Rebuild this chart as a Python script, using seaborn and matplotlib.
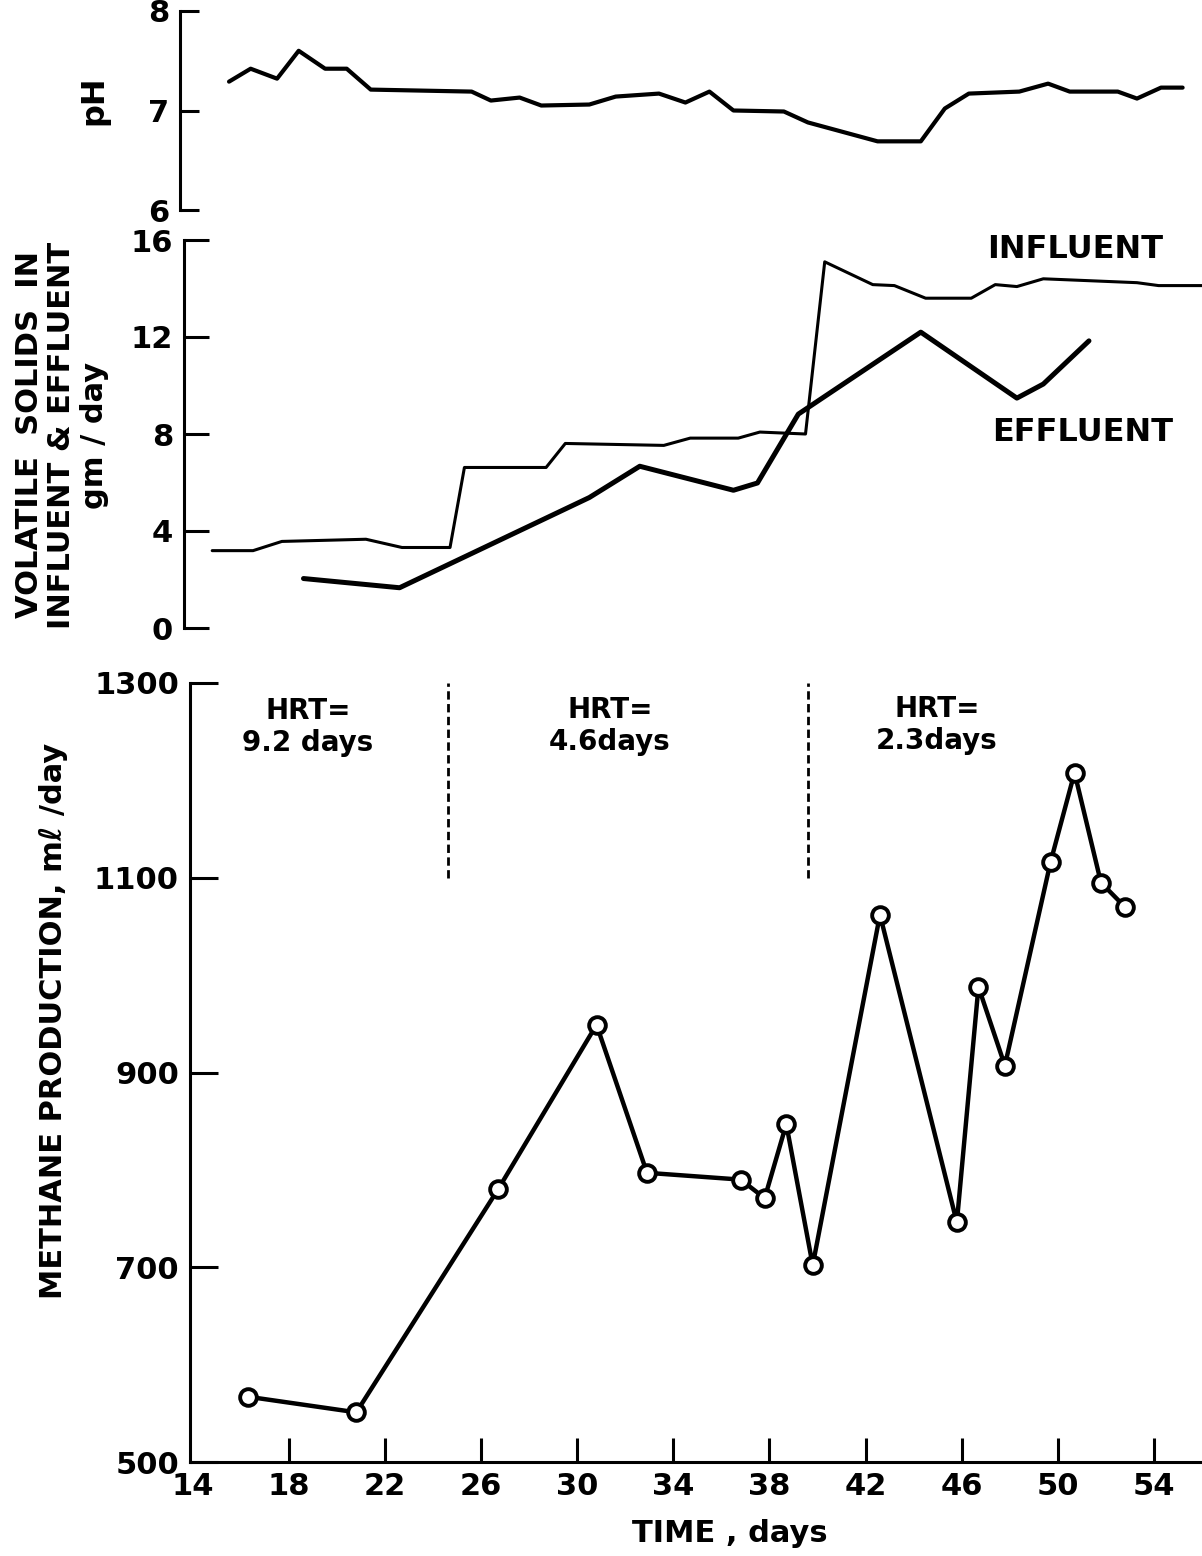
import matplotlib
matplotlib.use("Agg")
import matplotlib.pyplot as plt
import seaborn as sns
import pandas as pd

# ---------------- data ----------------
ph_days = [15.5, 16.4, 17.5, 18.4, 19.5, 20.4, 21.4, 25.6, 26.4, 27.6, 28.5, 30.5, 31.6,
           33.4, 34.5, 35.5, 36.5, 38.6, 39.6, 42.5, 44.3, 45.3, 46.3, 48.4, 49.6, 50.5,
           52.5, 53.3, 54.3, 55.2]
ph_vals = [7.29, 7.42, 7.32, 7.60, 7.42, 7.42, 7.21, 7.19, 7.10, 7.13, 7.05, 7.06, 7.14,
           7.17, 7.08, 7.19, 7.00, 6.99, 6.88, 6.69, 6.69, 7.02, 7.17, 7.19, 7.27, 7.19,
           7.19, 7.12, 7.23, 7.23]

infl_days = [14.8, 16.5, 17.7, 21.2, 22.7, 24.7, 25.3, 28.7, 29.5, 33.6, 34.7, 36.7, 37.6,
             39.5, 40.3, 42.3, 43.2, 44.5, 46.4, 47.4, 48.3, 49.4, 53.3, 54.2, 56.0]
infl_vals = [3.19, 3.19, 3.57, 3.66, 3.32, 3.32, 6.62, 6.62, 7.61, 7.53, 7.83, 7.83, 8.08,
             8.00, 15.1, 14.16, 14.12, 13.6, 13.6, 14.16, 14.08, 14.4, 14.24, 14.12, 14.12]

effl_days = [18.6, 22.6, 30.5, 32.6, 36.5, 37.5, 39.2, 44.3, 48.3, 49.4, 51.3]
effl_vals = [2.04, 1.66, 5.38, 6.67, 5.68, 5.98, 8.82, 12.2, 9.48, 10.06, 11.84]

ch4_days = [16.3, 20.8, 26.7, 30.8, 32.9, 36.8, 37.8, 38.7, 39.8, 42.6, 45.8, 46.7, 47.8,
            49.7, 50.7, 51.8, 52.8]
ch4_vals = [567, 551, 780, 949, 797, 790, 771, 847, 702, 1062, 746, 988, 907, 1116, 1208,
            1095, 1070]

hrt_bounds = [24.6, 39.6]
hrt_labels = ["HRT=\n9.2 days", "HRT=\n4.6days", "HRT=\n2.3days"]

x_ticks = [14, 18, 22, 26, 30, 34, 38, 42, 46, 50, 54]
ph_ticks = [6, 7, 8]
vs_ticks = [0, 4, 8, 12, 16]
ch4_ticks = [500, 700, 900, 1100, 1300]

# ---------------- style ----------------
sns.set_style("white")
plt.rcParams["font.family"] = ["DejaVu Sans"]
plt.rcParams["font.weight"] = "bold"
for k in ("text.color", "axes.labelcolor", "xtick.color", "ytick.color"):
    plt.rcParams[k] = "black"

W, H = 1202, 1556
fig = plt.figure(figsize=(W / 100, H / 100), dpi=100)
fig.patch.set_facecolor("white")


def day_of(px):
    return 14 + (px - 193) / 24.02


def add_axes(left_px, top_px, bottom_px):
    return fig.add_axes([left_px / W, 1 - bottom_px / H, (W - left_px) / W,
                         (bottom_px - top_px) / H])


ax_ph = add_axes(180, 11, 210)
ax_vs = add_axes(184, 240, 628)
ax_m = add_axes(190, 683, 1462)

for ax, lp in ((ax_ph, 180), (ax_vs, 184), (ax_m, 190)):
    ax.patch.set_alpha(0)
    ax.set_xlim(day_of(lp), day_of(W))
    for s in ("top", "right"):
        ax.spines[s].set_visible(False)
    for s in ax.spines.values():
        s.set_linewidth(2.2)
        s.set_color("black")

# pH panel
sns.lineplot(x=ph_days, y=ph_vals, ax=ax_ph, sort=False, estimator=None,
             color="black", linewidth=3.0)
ax_ph.set_ylim(6, 8)
ax_ph.set_yticks(ph_ticks)
ax_ph.spines["bottom"].set_visible(False)
ax_ph.set_xticks([])
ax_ph.tick_params(axis="y", left=True, direction="in", length=14, width=2.2,
                  labelsize=22, pad=8, colors="black")

# volatile solids panel
vs_df = pd.DataFrame({"day": infl_days + effl_days,
                      "vs": infl_vals + effl_vals,
                      "kind": ["INFLUENT"] * len(infl_days) + ["EFFLUENT"] * len(effl_days)})
sns.lineplot(data=vs_df[vs_df.kind == "INFLUENT"], x="day", y="vs", ax=ax_vs, sort=False,
             estimator=None, color="black", linewidth=2.2)
sns.lineplot(data=vs_df[vs_df.kind == "EFFLUENT"], x="day", y="vs", ax=ax_vs, sort=False,
             estimator=None, color="black", linewidth=3.6)
ax_vs.set_ylim(0, 16)
ax_vs.set_yticks(vs_ticks)
ax_vs.spines["bottom"].set_visible(False)
ax_vs.set_xticks([])
ax_vs.tick_params(axis="y", left=True, direction="in", length=18, width=2.2,
                  labelsize=22, pad=8, colors="black")
ax_vs.set_xlabel("")
ax_vs.set_ylabel("")

# methane panel
sns.lineplot(x=ch4_days, y=ch4_vals, ax=ax_m, sort=False, estimator=None,
             color="black", linewidth=3.2, marker="o", markersize=12,
             markerfacecolor="white", markeredgecolor="black", markeredgewidth=2.8)
ax_m.vlines(hrt_bounds, 1100, 1300, colors="black", linewidth=2.0,
            linestyles=(0, (3, 1.6)))
ax_m.set_ylim(500, 1300)
ax_m.set_yticks(ch4_ticks)
ax_m.set_xticks(x_ticks)
ax_m.tick_params(axis="y", left=True, direction="in", length=20, width=2.2,
                 labelsize=22, pad=8, colors="black")
ax_m.tick_params(axis="x", bottom=True, direction="in", length=17, width=2.2,
                 labelsize=22, pad=7, colors="black")
ax_m.xaxis.get_major_ticks()[0].tick1line.set_visible(False)
ax_ph.set_ylabel("")
ax_m.set_ylabel("")
ax_m.set_xlabel("")


def ftext(px, py, s, **kw):
    fig.text(px / W, 1 - py / H, s, color="black", **kw)


ftext(94, 100, "pH", rotation=90, ha="center", va="center", fontsize=23)
ftext(62, 435, "VOLATILE  SOLIDS  IN\nINFLUENT & EFFLUENT\ngm / day", rotation=90,
      ha="center", va="center", multialignment="center", fontsize=22, linespacing=1.15)
ftext(53, 1021, "METHANE PRODUCTION, mℓ /day", rotation=90, ha="center", va="center",
      fontsize=22)
ftext(730, 1533, "TIME , days", ha="center", va="center", fontsize=22)
ftext(987, 250, "INFLUENT", ha="left", va="center", fontsize=23)
ftext(992, 432, "EFFLUENT", ha="left", va="center", fontsize=23)

for (cx, cy), lab in zip([(308, 727), (610, 726), (937, 725)], hrt_labels):
    ftext(cx, cy, lab, ha="center", va="center", multialignment="center", fontsize=20,
          linespacing=1.15)

fig.savefig("out.png", dpi=100, facecolor="white")
